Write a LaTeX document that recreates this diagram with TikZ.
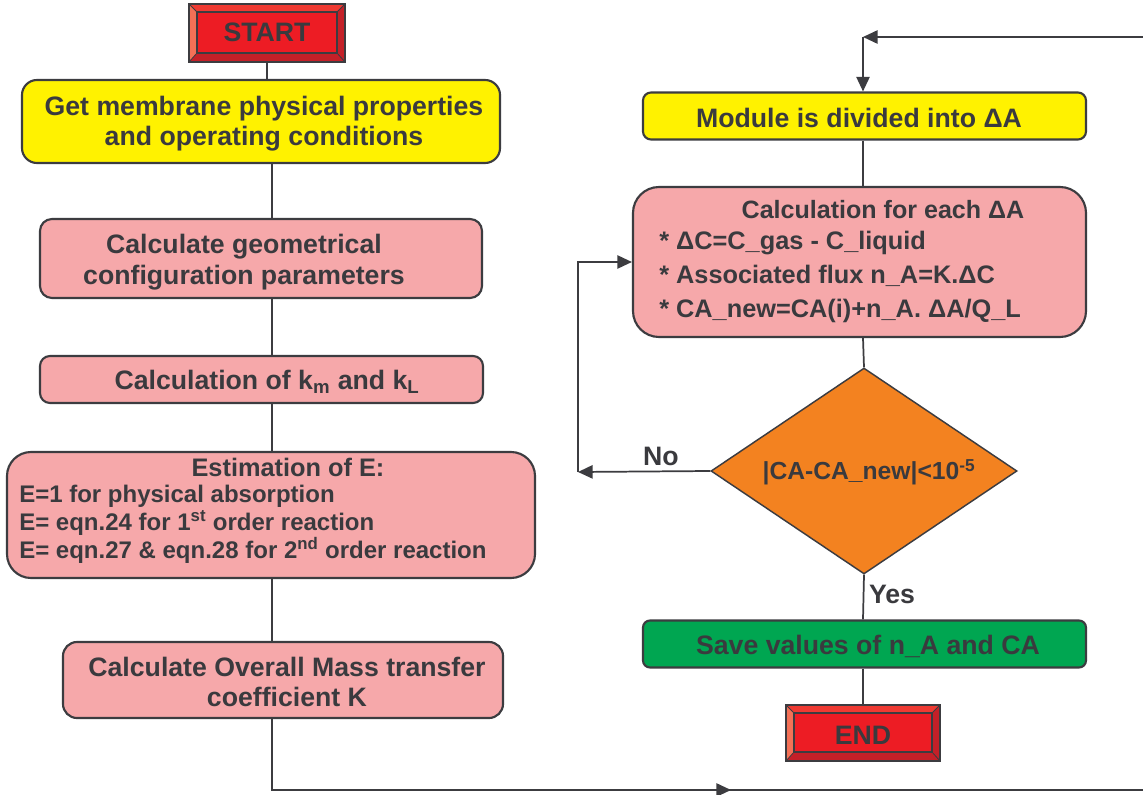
\documentclass[tikz,border=0pt]{standalone}
\usepackage{fontspec}
\setmainfont{Liberation Sans}
\usetikzlibrary{arrows.meta,calc,shapes.geometric}
\newdimen\px \px=0.75pt
\newcommand\tightlines{\lineskiplimit=-20pt\relax}
\definecolor{ink}{RGB}{58,58,62}
\definecolor{edge}{RGB}{60,60,64}
\definecolor{boxyellow}{RGB}{255,242,0}
\definecolor{boxpink}{RGB}{246,168,170}
\definecolor{boxgreen}{RGB}{0,166,81}
\definecolor{boxorange}{RGB}{243,130,32}
\definecolor{termface}{RGB}{237,28,36}
\definecolor{termlight}{RGB}{244,112,86}
\definecolor{termtop}{RGB}{239,58,50}
\definecolor{termdark}{RGB}{196,32,40}

\tikzset{
  box/.style={draw=edge, line width=1.6pt, inner sep=0pt, rectangle},
  ybox/.style={box, fill=boxyellow},
  pbox/.style={box, fill=boxpink},
  gbox/.style={box, fill=boxgreen},
  txt/.style={text=ink, font=\fontsize{20}{22.5}\selectfont\bfseries, inner sep=0pt, align=center},
  conn/.style={draw=edge, line width=1.3pt},
  arr/.style={conn, -{Triangle[length=11pt,width=10pt]}},
  term/.style={draw=edge, line width=1.2pt, fill=termdark, inner sep=0pt, outer sep=0pt, rectangle},
}

% bevelled terminal box: light left face, red top face, dark bottom/right faces
\newcommand\bevel[1]{%
  \coordinate (#1-nw) at ($(#1.north west)+(8,8)$);
  \coordinate (#1-ne) at ($(#1.north east)+(-8,8)$);
  \coordinate (#1-se) at ($(#1.south east)+(-8,-9)$);
  \coordinate (#1-sw) at ($(#1.south west)+(8,-9)$);
  \fill[termlight] (#1.north west) -- (#1-nw) -- (#1-sw) -- (#1.south west) -- cycle;
  \fill[termtop] (#1.north west) -- (#1.north east) -- (#1-ne) -- (#1-nw) -- cycle;
  \draw[edge, line width=1pt, fill=termface] (#1-nw) rectangle (#1-se);
  \draw[edge, line width=0.6pt] (#1.north west) -- (#1-nw) (#1.north east) -- (#1-ne)
        (#1.south east) -- (#1-se) (#1.south west) -- (#1-sw);
  \draw[edge, line width=1.2pt] (#1.north west) rectangle (#1.south east);
}

\begin{document}
\begin{tikzpicture}[x=0.75pt, y=-0.75pt]
\fill[white] (0,0) rectangle (1143,795);
\useasboundingbox (0,0) rectangle (1143,795);

% column guides
\coordinate (col) at (272,0);
\coordinate (rcol) at (863,0);

% ---- left column ----
\node[term, minimum width=156\px, minimum height=58\px] (start) at (267,33) {};
\bevel{start}
\node[txt] (startt) at (267,32) {START};

\node[ybox, rounded corners=15\px, minimum width=478\px, minimum height=83\px] (get) at (261,121.5) {};
\node[txt] (gett) at (264,124) {Get membrane physical properties\\and operating conditions};

\node[pbox, rounded corners=12\px, minimum width=442\px, minimum height=79\px] (geom) at (261,258.5) {};
\node[txt, font=\fontsize{20}{23.3}\selectfont\bfseries] (geomt) at (244,262.5) {Calculate geometrical\\configuration parameters};

\node[pbox, rounded corners=10\px, minimum width=443\px, minimum height=47\px] (km) at (261.5,379.5) {};
\node[txt] (kmt) at (267,382) {Calculation of k\textsubscript{m} and k\textsubscript{L}};

\node[pbox, rounded corners=24\px, minimum width=528\px, minimum height=126\px] (est) at (271,515) {};
\node[txt, font=\fontsize{19}{21}\selectfont\bfseries] (estt) at (288,467) {Estimation of E:};
\node[txt, anchor=west, align=left, font=\fontsize{18}{21}\selectfont\bfseries\tightlines] (estb) at (19,524)
  {E=1 for physical absorption\\
   E= eqn.24 for 1\textsuperscript{st} order reaction\\
   E= eqn.27 \& eqn.28 for 2\textsuperscript{nd} order reaction};

\node[pbox, rounded corners=14\px, minimum width=440\px, minimum height=76\px] (ovr) at (283,680) {};
\node[txt] (ovrt) at (287,682) {Calculate Overall Mass transfer\\coefficient K};

% ---- right column ----
\node[ybox, rounded corners=8\px, minimum width=443\px, minimum height=47\px] (mod) at (864.5,116) {};
\node[txt] (modt) at (859,118) {Module is divided into ΔA};

\node[pbox, rounded corners=26\px, minimum width=453\px, minimum height=150\px] (calc) at (859.5,262) {};
\node[txt, font=\fontsize{18.8}{22}\selectfont\bfseries] (calct) at (883,210) {Calculation for each ΔA};
\node[txt, anchor=west, align=left, font=\fontsize{19}{25.2}\selectfont\bfseries] (calcb) at (659,277)
  {* ΔC=C\_gas - C\_liquid\\
   * Associated flux n\_A=K.ΔC\\
   * CA\_new=CA(i)+n\_A. ΔA/Q\_L};

\node[diamond, draw=edge, line width=1.1pt, fill=boxorange, inner sep=0pt,
      minimum width=306\px, minimum height=206\px] (dia) at (864,471) {};
\node[txt, font=\fontsize{18.5}{21}\selectfont\bfseries] (diat) at (869,472) {|CA-CA\_new|<10\textsuperscript{-5}};

\node[gbox, rounded corners=7\px, minimum width=443\px, minimum height=47\px] (save) at (864.5,644) {};
\node[txt] (savet) at (868,646) {Save values of n\_A and CA};

\node[term, minimum width=154\px, minimum height=56\px] (end) at (863,733) {};
\bevel{end}
\node[txt] (endt) at (863,735) {END};

% ---- connectors ----
\draw[conn] (start.south) -- (start.south |- get.north);
\draw[conn] (get.south -| col) -- (geom.north -| col);
\draw[conn] (geom.south -| col) -- (km.north -| col);
\draw[conn] (km.south -| col) -- (est.north -| col);
\draw[conn] (est.south -| col) -- (ovr.north -| col);

\coordinate (bl) at (272,790);
\coordinate (bm) at (731,790);
\coordinate (br) at (1149,790);
\coordinate (tr) at (1149,37);
\coordinate (tl) at (863,37);
\draw[conn] (ovr.south -| col) -- (bl) -- (br) -- (tr);
\draw[arr] (bl) -- (bm);
\draw[arr] (tr) -- (tl);
\draw[arr] (tl) -- (mod.north -| rcol);

\draw[conn] (mod.south -| rcol) -- (calc.north -| rcol);
\draw[conn] (calc.south -| rcol) -- (dia.north);

\coordinate (nocorner) at (578,472);
\draw[arr] (dia.west) -- (nocorner);
\draw[arr] (nocorner) |- (calc.west);
\node[txt] (not) at (661,456) {No};

\draw[conn] (dia.south) -- (save.north -| rcol);
\node[txt] (yest) at (892,594) {Yes};
\draw[conn] (save.south -| rcol) -- (end.north);
\end{tikzpicture}
\end{document}
